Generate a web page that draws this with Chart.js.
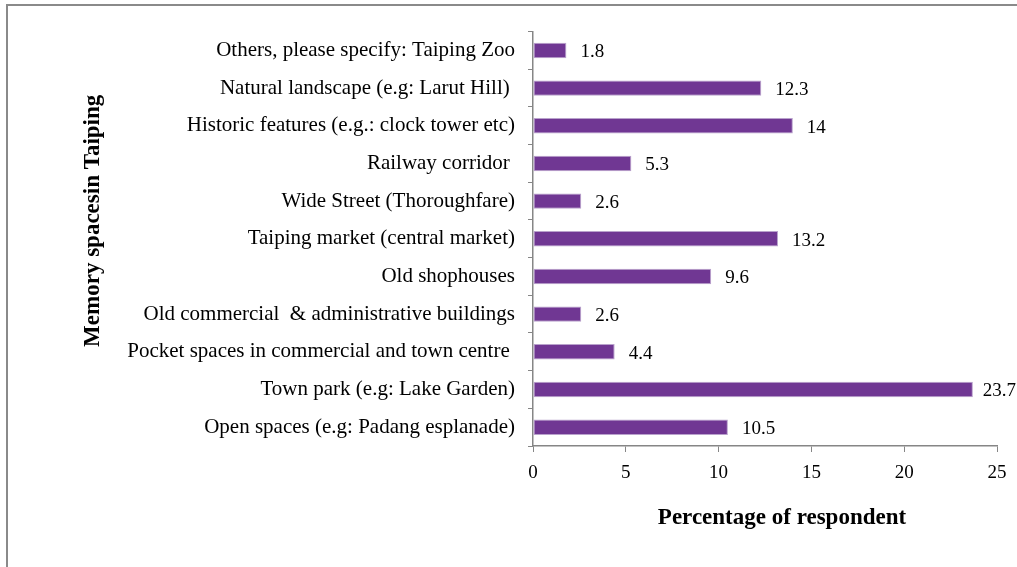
<!DOCTYPE html>
<html>
<head>
<meta charset="utf-8">
<script src="https://cdn.jsdelivr.net/npm/chart.js@4"></script>
<style>
  html, body { margin: 0; padding: 0; background: #fff; }
  #frame {
    position: absolute; left: 6px; top: 4px;
    width: 1009px; height: 561px;
    border-left: 2px solid #8a8a8a; border-top: 2px solid #8a8a8a;
  }
  #chart { display: block; }
</style>
</head>
<body>
<div id="frame"><canvas id="chart" width="1009" height="561"></canvas></div>
<script>
// categories, top to bottom as in the picture
const categories = [
    'Others, please specify: Taiping Zoo',
    'Natural landscape (e.g: Larut Hill) ',
    'Historic features (e.g.: clock tower etc)',
    'Railway corridor ',
    'Wide Street (Thoroughfare)',
    'Taiping market (central market)',
    'Old shophouses',
    'Old commercial  & administrative buildings',
    'Pocket spaces in commercial and town centre ',
    'Town park (e.g: Lake Garden)',
    'Open spaces (e.g: Padang esplanade)'
];
const percentages = [1.8, 12.3, 14, 5.3, 2.6, 13.2, 9.6, 2.6, 4.4, 23.7, 10.5];
const xTicks = [0, 5, 10, 15, 20, 25];
const xTitle = 'Percentage of respondent';
const yTitle = 'Memory spacesin Taiping';

const serif = '"Liberation Serif", "Times New Roman", serif';
const axisGray = '#868686';

// value labels at the end of each bar + the two axis titles
const extras = {
    id: 'extras',
    afterDatasetsDraw(chart) {
        const ctx = chart.ctx;
        const area = chart.chartArea;
        const meta = chart.getDatasetMeta(0);
        ctx.save();
        ctx.fillStyle = '#000';

        ctx.font = '19px ' + serif;
        ctx.textAlign = 'left';
        ctx.textBaseline = 'middle';
        meta.data.forEach((bar, i) => {
            const txt = String(percentages[i]);
            const w = ctx.measureText(txt).width;
            const x = Math.min(bar.x + 14, chart.width - w - 1);
            ctx.fillText(txt, x, bar.y + 2);
        });

        ctx.font = 'bold 23px ' + serif;
        ctx.textAlign = 'center';
        ctx.fillText(xTitle, (area.left + area.right) / 2 + 17, 512);

        ctx.translate(85, (area.top + area.bottom) / 2 - 18);
        ctx.rotate(-Math.PI / 2);
        ctx.fillText(yTitle, 0, 0);
        ctx.restore();
    }
};

new Chart(document.getElementById('chart'), {
    type: 'bar',
    data: {
        labels: categories,
        datasets: [{
            data: percentages,
            backgroundColor: '#703793',
            borderColor: '#b9a2cc',
            borderWidth: 1,
            borderSkipped: false,
            barPercentage: 0.41,
            categoryPercentage: 1.0,
            clip: false
        }]
    },
    options: {
        indexAxis: 'y',
        responsive: false,
        animation: false,
        layout: { padding: { top: 24, right: 20, left: 0, bottom: 0 } },
        plugins: {
            legend: { display: false },
            tooltip: { enabled: false }
        },
        scales: {
            x: {
                min: 0,
                max: 25,
                afterBuildTicks: (scale) => { scale.ticks = xTicks.map(v => ({ value: v })); },
                afterFit: (scale) => { scale.height = 121; },
                ticks: {
                    color: '#000',
                    font: { family: serif, size: 19 },
                    padding: 10,
                    maxRotation: 0
                },
                grid: {
                    drawOnChartArea: false,
                    drawTicks: true,
                    tickLength: 6,
                    color: axisGray
                },
                border: { color: axisGray, width: 1.5 }
            },
            y: {
                afterFit: (scale) => { scale.width = 525; },
                ticks: {
                    color: '#000',
                    font: { family: serif, size: 21 },
                    padding: 13,
                    autoSkip: false
                },
                grid: {
                    drawOnChartArea: false,
                    drawTicks: true,
                    tickLength: 5,
                    color: axisGray
                },
                border: { color: axisGray, width: 1.5 }
            }
        }
    },
    plugins: [extras]
});
</script>
</body>
</html>
